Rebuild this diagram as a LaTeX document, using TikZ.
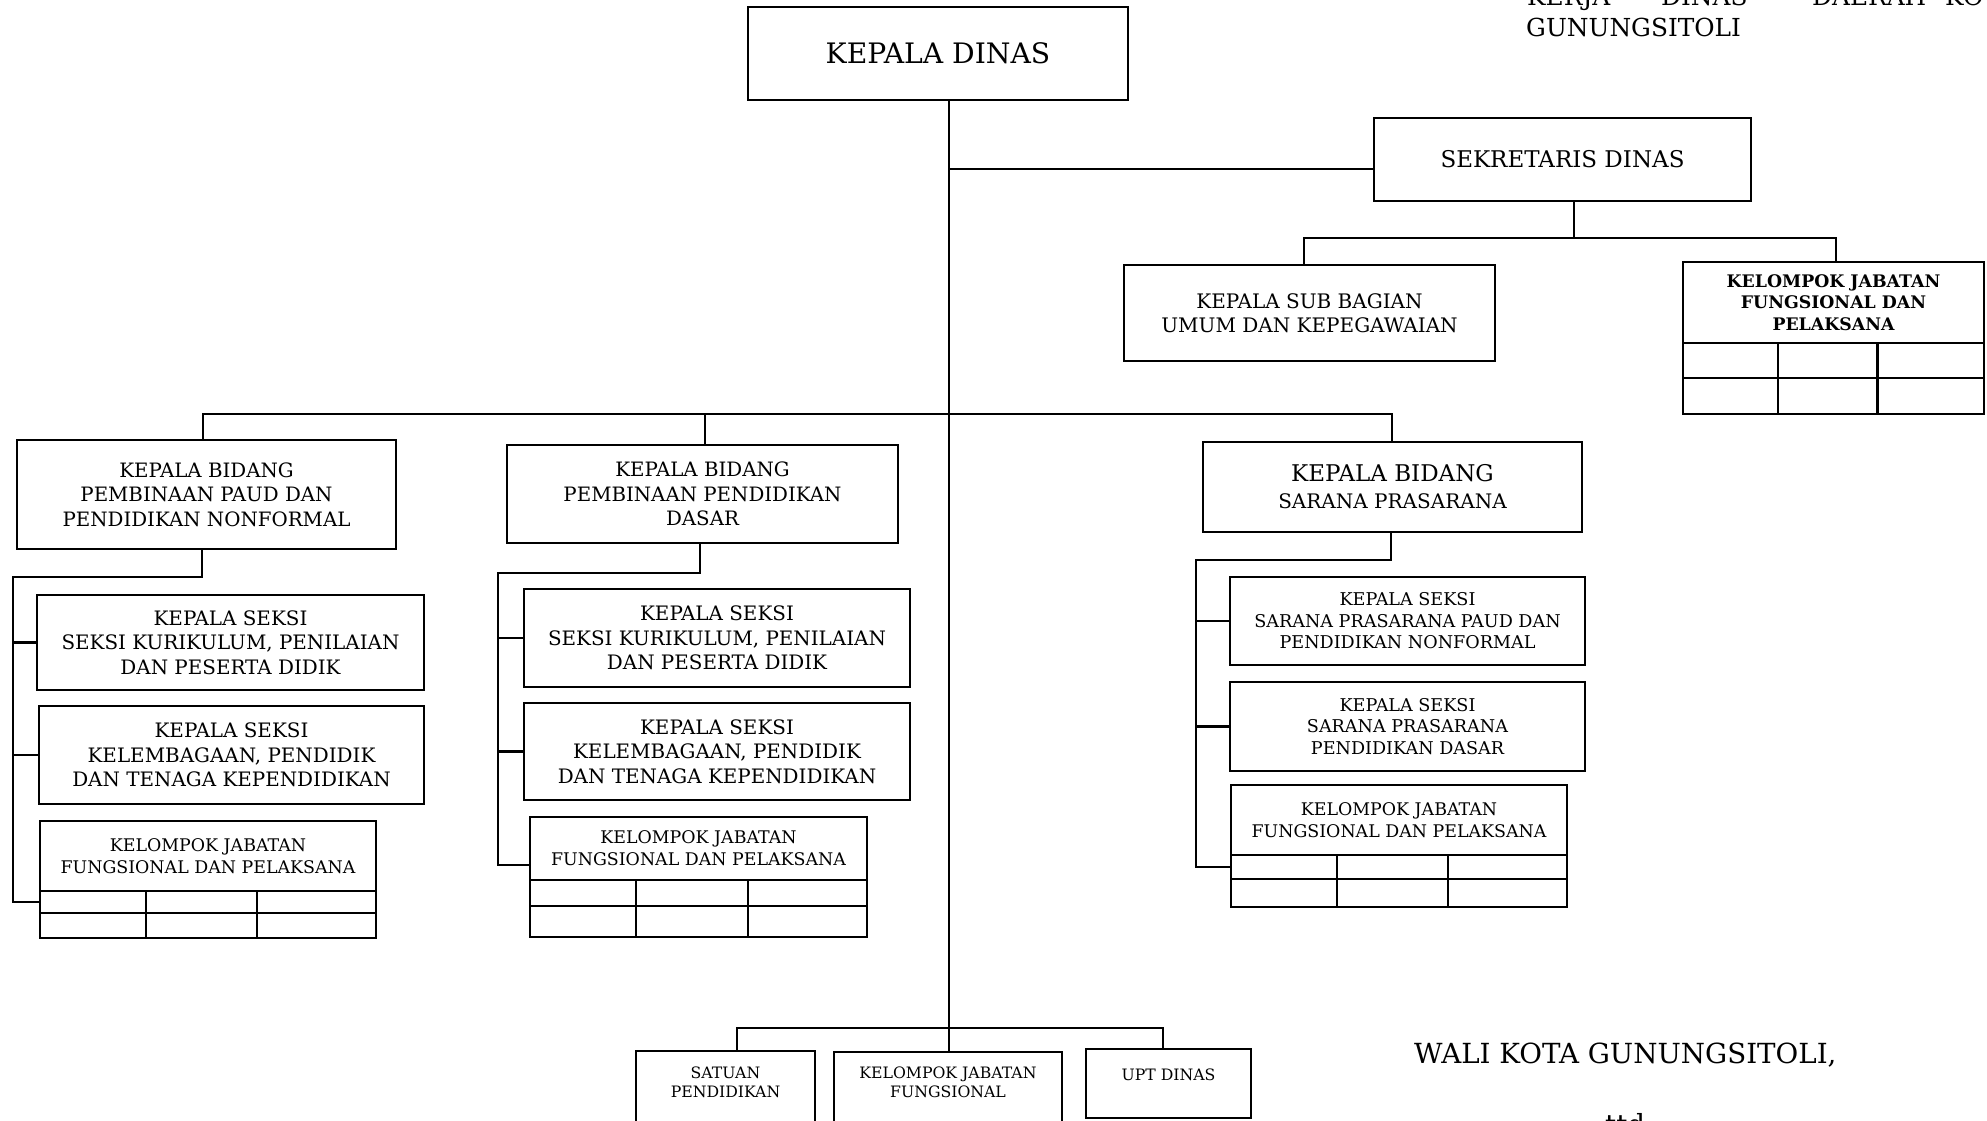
\documentclass[tikz,border=0pt]{standalone}
\usepackage{fontspec}
\setmainfont{DejaVu Serif}
\usetikzlibrary{calc}
\newcommand\myfs[2]{\fontsize{#1pt}{#2pt}\selectfont}
\begin{document}
\begin{tikzpicture}[x=1pt,y=-1pt,
  box/.style={draw,line width=2.2pt,rectangle,inner sep=0pt,outer sep=0pt,align=center},
  wire/.style={line width=2.2pt},
  plain/.style={inner sep=0pt,align=center},
  bid/.style={box,font=\myfs{19.8}{24.5}},
  sek/.style={box,font=\myfs{19.9}{24.5}},
  sek3/.style={box,font=\myfs{17.6}{21.5}},
  kel/.style={box,font=\myfs{17.4}{22}},
  low/.style={plain,font=\myfs{15.7}{19.5}}]
\useasboundingbox (0,0) rectangle (1987,1120);

% heading text, upper right
\begin{scope}[every node/.style={inner sep=0pt,anchor=base west,font=\myfs{24.8}{32}}]
  \node (h1) at (1527,5) {KERJA};
  \node (h2) at (1661,5) {DINAS};
  \node (h3) at (1812,5) {DAERAH};
  \node (h4) at (1945,5) {KO};
  \node (h5) at (1526,36) {GUNUNGSITOLI};
\end{scope}

% top level
\node[box,minimum width=380pt,minimum height=93pt,font=\myfs{28.2}{34}] (kd) at (938,53.5) {KEPALA DINAS};
\node[box,minimum width=377pt,minimum height=83pt,font=\myfs{23}{28}] (sek) at (1562.5,159.5) {SEKRETARIS DINAS};
\node[box,minimum width=371pt,minimum height=96pt,font=\myfs{20}{24}] (ksb) at (1309.5,313) {KEPALA SUB BAGIAN\\UMUM DAN KEPEGAWAIAN};

% functional group under the secretary
\node[box,minimum width=301pt,minimum height=81pt,font=\myfs{17.3}{21.5}\bfseries] (kt) at (1833.5,302.5) {KELOMPOK JABATAN\\FUNGSIONAL DAN\\PELAKSANA};
\node[box,minimum width=301pt,minimum height=35pt,anchor=north] (kta) at (kt.south) {};
\node[box,minimum width=301pt,minimum height=36pt,anchor=north] (ktb) at (kta.south) {};

% division 1
\node[bid,minimum width=379pt,minimum height=109pt] (b1) at (206.5,494.5) {KEPALA BIDANG\\PEMBINAAN PAUD DAN\\PENDIDIKAN NONFORMAL};
\node[sek,minimum width=387pt,minimum height=95pt] (s1a) at (230.5,642.5) {KEPALA SEKSI\\SEKSI KURIKULUM, PENILAIAN\\DAN PESERTA DIDIK};
\node[sek,minimum width=385pt,minimum height=98pt] (s1b) at (231.5,755) {KEPALA SEKSI\\KELEMBAGAAN, PENDIDIK\\DAN TENAGA KEPENDIDIKAN};
\node[kel,minimum width=336pt,minimum height=70pt] (k1) at (208,856) {KELOMPOK JABATAN\\FUNGSIONAL DAN PELAKSANA};
\node[box,minimum width=336pt,minimum height=22pt,anchor=north] (k1a) at (k1.south) {};
\node[box,minimum width=336pt,minimum height=25pt,anchor=north] (k1b) at (k1a.south) {};

% division 2
\node[bid,minimum width=391pt,minimum height=98pt] (b2) at (702.5,494) {KEPALA BIDANG\\PEMBINAAN PENDIDIKAN\\DASAR};
\node[sek,minimum width=386pt,minimum height=98pt] (s2a) at (717,638) {KEPALA SEKSI\\SEKSI KURIKULUM, PENILAIAN\\DAN PESERTA DIDIK};
\node[sek,minimum width=386pt,minimum height=97pt] (s2b) at (717,751.5) {KEPALA SEKSI\\KELEMBAGAAN, PENDIDIK\\DAN TENAGA KEPENDIDIKAN};
\node[kel,minimum width=337pt,minimum height=63pt] (k2) at (698.5,848.5) {KELOMPOK JABATAN\\FUNGSIONAL DAN PELAKSANA};
\node[box,minimum width=337pt,minimum height=26pt,anchor=north] (k2a) at (k2.south) {};
\node[box,minimum width=337pt,minimum height=31pt,anchor=north] (k2b) at (k2a.south) {};

% division 3
\node[box,minimum width=379pt,minimum height=90pt,font=\myfs{20}{27}] (b3) at (1392.5,487) {{\myfs{23}{27}KEPALA BIDANG}\\SARANA PRASARANA};
\node[sek3,minimum width=355pt,minimum height=88pt] (s3a) at (1407.5,621) {KEPALA SEKSI\\SARANA PRASARANA PAUD DAN\\PENDIDIKAN NONFORMAL};
\node[sek3,minimum width=355pt,minimum height=89pt] (s3b) at (1407.5,726.5) {KEPALA SEKSI\\SARANA PRASARANA\\PENDIDIKAN DASAR};
\node[kel,minimum width=336pt,minimum height=70pt] (k3) at (1399,820) {KELOMPOK JABATAN\\FUNGSIONAL DAN PELAKSANA};
\node[box,minimum width=336pt,minimum height=24pt,anchor=north] (k3a) at (k3.south) {};
\node[box,minimum width=336pt,minimum height=28pt,anchor=north] (k3b) at (k3a.south) {};

% column rules of the staff tables
\foreach \tb in {k1,k2,k3,kt}{
  \foreach \f in {0.315,0.646}{
    \draw[wire] ($(\tb a.north west)!\f!(\tb a.north east)$) -- ($(\tb b.south west)!\f!(\tb b.south east)$);
  }
}

% bottom row
\node[box,minimum width=179pt,minimum height=89pt] (sat) at (725.5,1095.5) {};
\node[low] (satt) at (725.5,1082.5) {SATUAN\\PENDIDIKAN};
\node[box,minimum width=228pt,minimum height=88pt] (kjf) at (948,1096) {};
\node[low] (kjft) at (948,1082.5) {KELOMPOK JABATAN\\FUNGSIONAL};
\node[box,minimum width=165pt,minimum height=69pt] (upt) at (1168.5,1083.5) {};
\node[low] (uptt) at (1168.5,1075) {UPT DINAS};

% signature
\node[inner sep=0pt,anchor=base west,font=\myfs{27.7}{34}] (wk) at (1414,1063) {WALI KOTA GUNUNGSITOLI,};
\node[inner sep=0pt,anchor=base west,font=\myfs{27.7}{34}] (ttd) at (1605,1134) {ttd};

% junction points
\coordinate (tr) at (949,0);
\coordinate (js) at (949,169);
\coordinate (jsd) at (1574,238);
\coordinate (jl) at (1304,238);
\coordinate (jr) at (1836,238);
\coordinate (bl) at (203,414);
\coordinate (bm) at (705,414);
\coordinate (br) at (1392,414);
\coordinate (c1) at (202,577);
\coordinate (r1) at (13,577);
\coordinate (c2) at (700,573);
\coordinate (r2) at (498,573);
\coordinate (e2) at (498,865);
\coordinate (c3) at (1391,560);
\coordinate (r3) at (1196,560);
\coordinate (ul) at (737,1028);
\coordinate (ur) at (1163,1028);

% trunk and secretary branch
\draw[wire] (kd.south -| tr) -- (kjf.north -| tr);
\draw[wire] (js) -- (js -| sek.west);
\draw[wire] (jsd |- sek.south) -- (jsd);
\draw[wire] (jl |- ksb.north) -- (jl) -- (jr) -- (jr |- kt.north);

% division bus
\draw[wire] (bl |- b1.north) -- (bl) -- (br) -- (br |- b3.north);
\draw[wire] (bm) -- (bm |- b2.north);

% division 1 sections
\draw[wire] (c1 |- b1.south) -- (c1) -- (r1) |- (k1a.west);
\draw[wire] (r1 |- s1a.west) -- (s1a.west);
\draw[wire] (r1 |- s1b.west) -- (s1b.west);

% division 2 sections
\draw[wire] (c2 |- b2.south) -- (c2) -- (r2) -- (e2) -- (e2 -| k2.west);
\draw[wire] (r2 |- s2a.west) -- (s2a.west);
\draw[wire] (r2 |- s2b.west) -- (s2b.west);

% division 3 sections
\draw[wire] (c3 |- b3.south) -- (c3) -- (r3) |- (k3a.west);
\draw[wire] (r3 |- s3a.west) -- (s3a.west);
\draw[wire] (r3 |- s3b.west) -- (s3b.west);

% bottom bus
\draw[wire] (ul |- sat.north) -- (ul) -- (ur) -- (ur |- upt.north);
\end{tikzpicture}
\end{document}
